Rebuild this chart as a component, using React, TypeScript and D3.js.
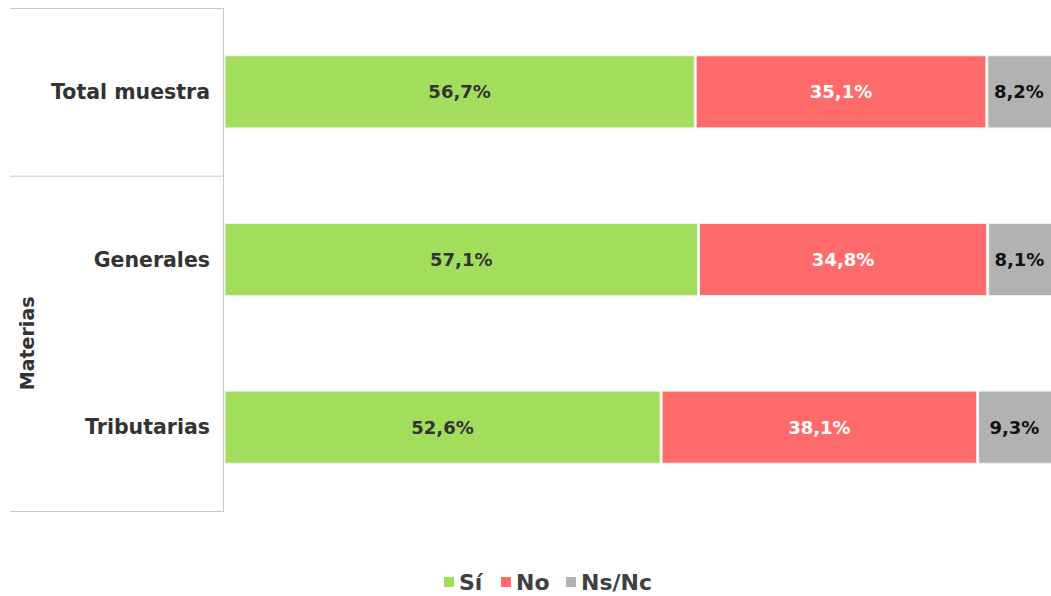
import React, { useEffect, useRef } from 'react';
import * as d3 from 'd3';

const categories = ['Total muestra', 'Generales', 'Tributarias'];
const seriesNames = ['Sí', 'No', 'Ns/Nc'];
const siValues = [56.7, 57.1, 52.6];
const noValues = [35.1, 34.8, 38.1];
const nsncValues = [8.2, 8.1, 9.3];
const groupLabel = 'Materias';

const colors = ['#a2de5c', '#ff6b6b', '#b2b2b2'];
const labelColors = ['#333333', '#ffffff', '#111111'];

const width = 1051;
const height = 596;
const margin = { top: 8, right: -4, bottom: 85, left: 224 };
const font = 'Tahoma, "DejaVu Sans", Verdana, sans-serif';

const App: React.FC = () => {
  const svgRef = useRef<SVGSVGElement>(null);

  useEffect(() => {
    if (!svgRef.current) return;
    const svg = d3.select(svgRef.current);
    svg.selectAll('*').remove();

    const rows = categories.map((c, i) => ({
      category: c,
      values: [siValues[i], noValues[i], nsncValues[i]],
    }));

    const x = d3.scaleLinear()
      .domain([0, 100])
      .range([margin.left, width - margin.right]);

    const y = d3.scaleBand<string>()
      .domain(categories)
      .range([margin.top, height - margin.bottom])
      .paddingInner(0.57)
      .paddingOuter(0.285);

    const fmt = (v: number) => v.toFixed(1).replace('.', ',') + '%';

    // axis frame lines
    const gridColor = '#c8c8c8';
    svg.append('line')
      .attr('x1', margin.left - 0.5).attr('x2', margin.left - 0.5)
      .attr('y1', margin.top).attr('y2', height - margin.bottom)
      .attr('stroke', gridColor);
    const hLines = [margin.top, margin.top + (height - margin.top - margin.bottom) / 3, height - margin.bottom];
    hLines.forEach((yy) => {
      svg.append('line')
        .attr('x1', 10).attr('x2', margin.left)
        .attr('y1', yy + 0.5).attr('y2', yy + 0.5)
        .attr('stroke', gridColor);
    });

    // bars
    rows.forEach((row) => {
      let acc = 0;
      row.values.forEach((v, j) => {
        const x0 = x(acc);
        const x1 = x(acc + v);
        acc += v;
        svg.append('rect')
          .attr('x', x0 + 1)
          .attr('y', y(row.category)!)
          .attr('width', Math.max(0, x1 - x0 - 2))
          .attr('height', y.bandwidth())
          .attr('fill', colors[j])
          .attr('stroke', '#f0f0f0')
          .attr('stroke-width', 1);
        const cx = j === 2 ? Math.min((x0 + x1) / 2, (x0 + width) / 2) : (x0 + x1) / 2;
        svg.append('text')
          .attr('x', cx)
          .attr('y', y(row.category)! + y.bandwidth() / 2)
          .attr('text-anchor', 'middle')
          .attr('dominant-baseline', 'central')
          .attr('font-family', font)
          .attr('font-size', 18)
          .attr('font-weight', 'bold')
          .attr('fill', labelColors[j])
          .text(fmt(v));
      });
    });

    // category labels
    categories.forEach((c) => {
      svg.append('text')
        .attr('x', margin.left - 14)
        .attr('y', y(c)! + y.bandwidth() / 2)
        .attr('text-anchor', 'end')
        .attr('dominant-baseline', 'central')
        .attr('font-family', font)
        .attr('font-size', 20.5)
        .attr('font-weight', 'bold')
        .attr('fill', '#333333')
        .text(c);
    });

    // group label
    const gy = (hLines[1] + hLines[2]) / 2;
    svg.append('text')
      .attr('transform', `translate(27, ${gy}) rotate(-90)`)
      .attr('text-anchor', 'middle')
      .attr('dominant-baseline', 'central')
      .attr('font-family', font)
      .attr('font-size', 19)
      .attr('font-weight', 'bold')
      .attr('fill', '#333333')
      .text(groupLabel);

    // legend
    const legendX = [444, 501, 566];
    const legend = svg.append('g');
    seriesNames.forEach((s, i) => {
      legend.append('rect')
        .attr('x', legendX[i])
        .attr('y', 577)
        .attr('width', 10)
        .attr('height', 10)
        .attr('fill', colors[i]);
      legend.append('text')
        .attr('x', legendX[i] + 15)
        .attr('y', 582)
        .attr('dominant-baseline', 'central')
        .attr('font-family', font)
        .attr('font-size', 22)
        .attr('font-weight', 'bold')
        .attr('fill', '#404040')
        .text(s);
    });
  }, []);

  return (
    <svg
      ref={svgRef}
      width={width}
      height={height}
      style={{ position: 'absolute', left: 0, top: 0, background: '#ffffff' }}
    />
  );
};

export default App;
